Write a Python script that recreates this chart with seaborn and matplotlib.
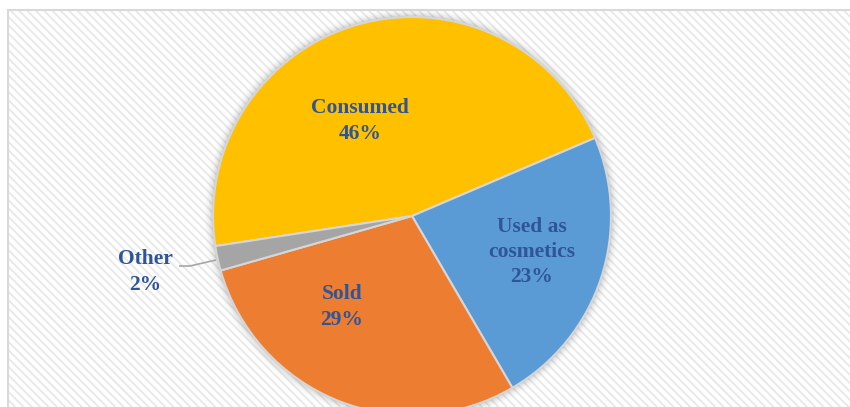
import matplotlib
matplotlib.use("Agg")
import matplotlib.pyplot as plt
from matplotlib.patches import Rectangle, Circle
import seaborn as sns

# Uses of the product (share of respondents, %)
categories = ["Consumed", "Used as\ncosmetics", "Sold", "Other"]
shares = [46, 23, 29, 2]
colors = ["#FFC000", "#5B9BD5", "#ED7D31", "#A5A5A5"]

sns.set_theme(style="white")
plt.rcParams["font.family"] = ["Liberation Serif", "DejaVu Serif"]
plt.rcParams["hatch.linewidth"] = 1.4

W, H = 850, 407
fig = plt.figure(figsize=(W / 100, H / 100), dpi=100)
ax = fig.add_axes([0, 0, 1, 1])

# chart area: light diagonal stripes with a thin grey frame
bg = Rectangle((8, -20), W + 20, H - 10 + 20, facecolor="white",
               edgecolor="#E9E9E9", hatch="\\\\\\\\", linewidth=0, zorder=0)
ax.add_patch(bg)
frame = Rectangle((8, -20), W + 20, H - 10 + 20, facecolor="none",
                  edgecolor="#D9D9D9", linewidth=1.5, zorder=1)
ax.add_patch(frame)

cx, cy, r = 412, 191, 199

# soft shadow around the pie
for i, a in enumerate([0.10, 0.07, 0.05, 0.035, 0.02, 0.01]):
    ax.add_patch(Circle((cx, cy), r + 1.5 * (i + 1), facecolor="#606060",
                        edgecolor="none", alpha=a, zorder=2))

wedges, _ = ax.pie(
    shares, colors=colors, startangle=188.7, counterclock=False,
    center=(cx, cy), radius=r, frame=True,
    wedgeprops=dict(edgecolor="#D6D6D6", linewidth=1.5, zorder=3),
)
ax.set_xlim(0, W)
ax.set_ylim(0, H)
ax.set_aspect("equal")
ax.axis("off")

label_pos = [(360, 286), (532, 155), (342, 100), (145, 135)]
txt_kw = dict(ha="center", va="center", fontsize=15.5, fontweight="bold",
              color="#2F5597", linespacing=1.35, zorder=5)
for name, val, (x, y) in zip(categories, shares, label_pos):
    ax.text(x, y, f"{name}\n{val}%", **txt_kw)

# leader line for the small slice
ax.plot([179, 190, 216], [141, 141, 147], color="#A6A6A6", linewidth=1.2,
        zorder=4, solid_capstyle="butt")

fig.savefig("out.png", dpi=100)
